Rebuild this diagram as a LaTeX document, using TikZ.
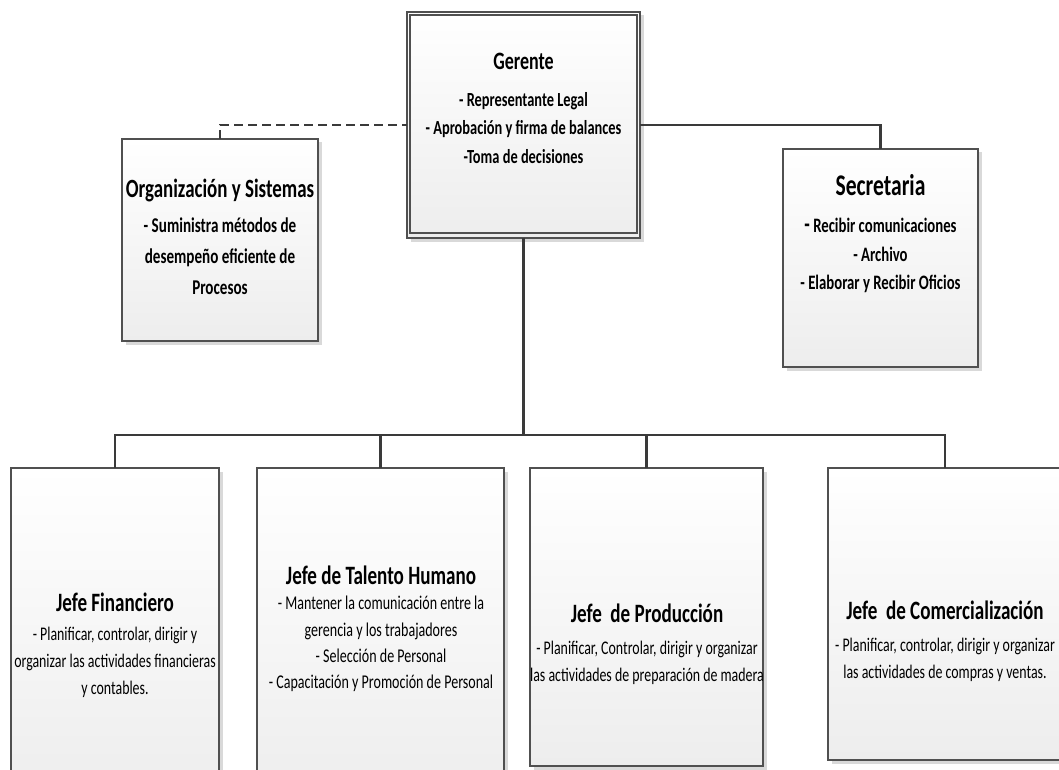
\documentclass[tikz,border=0pt]{standalone}
\usepackage{fontspec}
\setmainfont{Carlito}[FakeStretch=0.72]
\usetikzlibrary{shadows}
\definecolor{edge}{HTML}{505050}
\definecolor{wire}{HTML}{3A3A3A}
\definecolor{boxbot}{HTML}{EDEDED}
\tikzset{
  orgbox/.style={draw=edge, line width=1.2pt, rectangle, inner sep=0pt, outer sep=0pt,
    top color=white, bottom color=boxbot,
    general shadow={fill=black!15, shadow xshift=3.5pt, shadow yshift=-3.5pt}},
  innerframe/.style={draw=edge, line width=1.2pt, rectangle, inner sep=0pt, outer sep=0pt},
  wirestyle/.style={draw=wire, line width=2.3pt},
  txt/.style={align=center, inner sep=0pt, text=black},
}
\newcommand{\ttl}[2]{{\fontsize{#1}{#1}\selectfont\bfseries #2}}
\begin{document}
\begin{tikzpicture}[x=1pt,y=-1pt]
\useasboundingbox (0,0) rectangle (1059,770);
\clip (0,0) rectangle (1059,770);
% boxes
\node[orgbox, minimum width=233pt, minimum height=226pt] (ger) at (523.5,125) {};
\node[innerframe, minimum width=227pt, minimum height=218pt] (gerin) at (523.5,124) {};
\node[orgbox, minimum width=196pt, minimum height=202pt] (org) at (220,240) {};
\node[orgbox, minimum width=195pt, minimum height=218pt] (sec) at (880.5,258) {};
\node[orgbox, minimum width=208pt, minimum height=332pt] (jf) at (115,634) {};
\node[orgbox, minimum width=247pt, minimum height=332pt] (ta) at (380.5,634) {};
\node[orgbox, minimum width=233pt, minimum height=298pt] (pr) at (646.5,617) {};
\node[orgbox, minimum width=234pt, minimum height=292pt] (co) at (945,614) {};
% texts
\node[txt, font=\fontsize{20}{28.5}\selectfont\bfseries] (gert) at (523.5,108.5)
  {\ttl{25}{Gerente}\\[8pt]- Representante Legal\\- Aprobación y firma de balances\\-Toma de decisiones};
\node[txt, font=\fontsize{21}{31}\selectfont\bfseries] (orgt) at (220,236.5)
  {\ttl{26.3}{Organización y Sistemas}\\[4pt]- Suministra métodos de\\desempeño eficiente de\\Procesos};
\node[txt, font=\fontsize{20.5}{28.5}\selectfont\bfseries] (sect) at (880.5,233.5)
  {\ttl{30}{Secretaria}\\[9pt]{\fontsize{25}{28.5}\selectfont -} Recibir comunicaciones\\- Archivo\\- Elaborar y Recibir Oficios};
\node[txt, font=\fontsize{19.3}{26.5}\selectfont] (jft) at (115,645)
  {\ttl{26.5}{Jefe Financiero}\\[3pt]- Planificar, controlar, dirigir y\\organizar las actividades financieras\\y contables.};
\node[txt, font=\fontsize{19.5}{26.3}\selectfont] (tat) at (381,629)
  {\ttl{26.5}{Jefe de Talento Humano}\\[-1pt]- Mantener la comunicación entre la\\gerencia y los trabajadores\\- Selección de Personal\\- Capacitación y Promoción de Personal};
\node[txt, font=\fontsize{19.3}{27}\selectfont] (prt) at (647,644)
  {\ttl{26.5}{Jefe\ \ de Producción}\\[5pt]- Planificar, Controlar, dirigir y organizar\\las actividades de preparación de madera};
\node[txt, font=\fontsize{19.3}{27}\selectfont] (cot) at (945,641.5)
  {\ttl{26.5}{Jefe\ \ de Comercialización}\\[5pt]- Planificar, controlar, dirigir y organizar\\las actividades de compras y ventas.};
% connectors
\coordinate (bus) at (523.5,435);
\draw[wirestyle, dash pattern=on 9pt off 5pt] (org.north) |- (ger.west);
\draw[wirestyle] (ger.east) -| (sec.north);
\draw[wirestyle] (ger.south) -- (bus);
\draw[wirestyle] (bus) -| (jf.north);
\draw[wirestyle] (bus) -| (ta.north);
\draw[wirestyle] (bus) -| (pr.north);
\draw[wirestyle] (bus) -| (co.north);
\end{tikzpicture}
\end{document}
